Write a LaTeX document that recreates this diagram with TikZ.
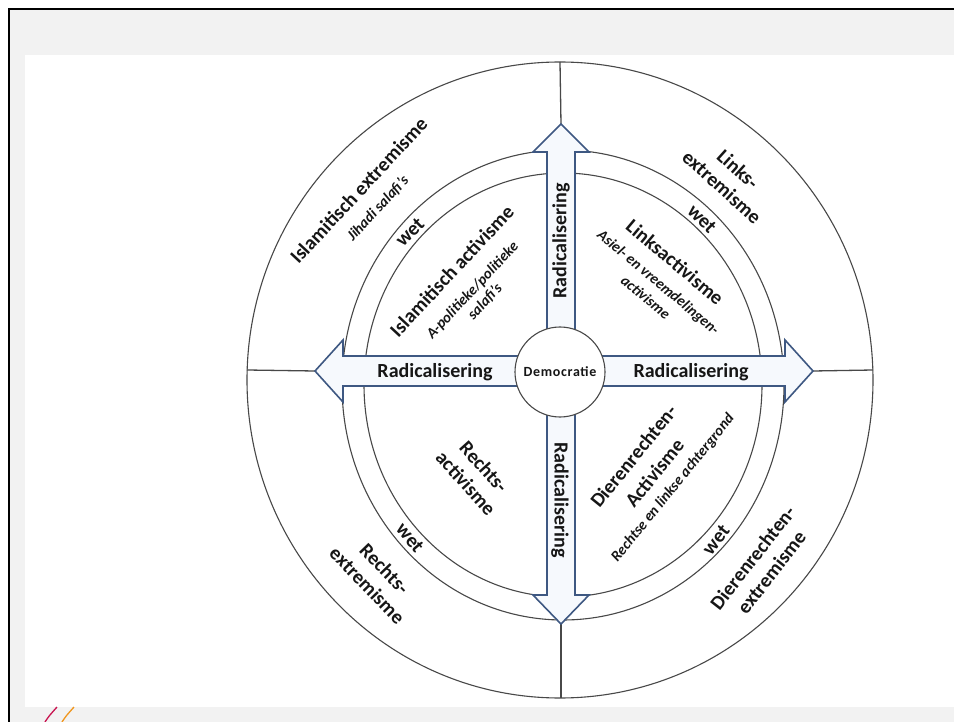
\documentclass[tikz,border=0pt]{standalone}
\usepackage{fontspec}
\setmainfont{Carlito}
\definecolor{ringgray}{RGB}{72,72,72}
\definecolor{arrowblue}{RGB}{62,88,130}
\definecolor{arrowfill}{RGB}{246,249,253}
\definecolor{bggray}{RGB}{242,242,242}
\definecolor{textblack}{RGB}{22,22,22}
\definecolor{markred}{RGB}{200,20,80}
\definecolor{markorange}{RGB}{240,150,30}
\newcommand{\subtxt}{\fontsize{15}{17}\selectfont\itshape}
\begin{document}
\begin{tikzpicture}[x=1pt,y=-1pt,
  ring/.style={draw=ringgray, line width=1.1pt},
  divider/.style={draw=ringgray, line width=1.3pt},
  arrowshape/.style={draw=arrowblue, fill=arrowfill, line width=1.6pt, line join=miter},
  lbl/.style={font=\fontsize{20}{24}\selectfont\bfseries, text=textblack, align=center, inner sep=0pt},
  radlbl/.style={font=\fontsize{20}{24}\selectfont\bfseries, text=textblack, inner sep=0pt},
  demolbl/.style={font=\fontsize{14}{16}\selectfont\bfseries\addfontfeature{LetterSpace=5}, text=textblack, inner sep=0pt}
]
\useasboundingbox (0,0) rectangle (954,722);
% slide background
\fill[white] (0,0) rectangle (954,722);
\fill[bggray] (9,9) rectangle (954,722);
\fill[white] (25,55) rectangle (954,707);
\draw[black, line width=2.2pt] (9,722) -- (9,9) -- (954,9);
% small marks bottom left
\draw[markred, line width=1.3pt] (45,722) .. controls (49,716) .. (57,707);
\draw[markorange, line width=1.3pt] (62,722) .. controls (66,716) .. (74,707);

% outer circle
\coordinate (C) at (560,380);
\draw[ring, fill=white] (C) ellipse [x radius=313pt, y radius=318pt];

% arrow tips and outer-circle points
\coordinate (oT) at (560,62);
\coordinate (oB) at (561,698);
\coordinate (oL) at (247,370);
\coordinate (oR) at (873,370);
\coordinate (tipT) at (561,124);
\coordinate (tipB) at (561,624);
\coordinate (tipL) at (315,371);
\coordinate (tipR) at (813,371);
\draw[divider] (oT) -- (tipT);
\draw[divider] (oB) -- (tipB);
\draw[divider] (oL) -- (tipL);
\draw[divider] (oR) -- (tipR);

% law rings
\coordinate (W) at (563,385);
\draw[ring] (W) ellipse [x radius=221pt, y radius=235pt];
\draw[ring] (W) ellipse [x radius=199pt, y radius=212pt];

% arrows
\draw[arrowshape] (547,331) -- (547,152) -- (533,152) -- (tipT) -- (589,152) -- (575,152) -- (575,331) -- cycle;
\draw[arrowshape] (547,413) -- (547,595) -- (533,595) -- (tipB) -- (589,595) -- (575,595) -- (575,413) -- cycle;
\draw[arrowshape] (518,356) -- (343,356) -- (343,340) -- (tipL) -- (343,402) -- (343,386) -- (518,386) -- cycle;
\draw[arrowshape] (602,356) -- (785,356) -- (785,340) -- (tipR) -- (785,402) -- (785,386) -- (602,386) -- cycle;

% centre
\node[circle, draw=ringgray, line width=1.1pt, fill=white, minimum size=90pt, inner sep=0pt] (demo) at (560,372) {};
\node[demolbl] (demotext) at (demo.center) {Democratie};

% radicalisering labels
\node[radlbl] (radL) at (435,372) {Radicalisering};
\node[radlbl] (radR) at (691,372) {Radicalisering};
\node[radlbl, rotate=90] (radT) at (561,241) {Radicalisering};
\node[radlbl, rotate=-90] (radB) at (560,500) {Radicalisering};

% upper left
\node[lbl, rotate=47] (islext) at (368,199) {Islamitisch extremisme\\{\subtxt Jihadi salafi's}};
\node[lbl, rotate=45] (wetUL) at (410,232) {wet};
\node[lbl, rotate=47] (islact) at (468,286) {Islamitisch activisme\\[2pt]{\subtxt A-politieke/politieke}\\[-7pt]{\subtxt salafi's}};

% upper right
\node[lbl, rotate=-42] (linksext) at (730,178) {Links-\\extremisme};
\node[lbl, rotate=-45] (wetUR) at (702,219) {wet};
\node[lbl, rotate=-40] (linksact) at (661,279) {Linksactivisme\\{\subtxt Asiel- en vreemdelingen-}\\[-4pt]{\subtxt activisme}};

% lower left
\node[lbl, rotate=-48] (rechtsact) at (475,475) {Rechts-\\activisme};
\node[lbl, rotate=-50] (wetLL) at (410,538) {wet};
\node[lbl, rotate=-46] (rechtsext) at (376,577) {Rechts-\\extremisme};

% lower right
\node[lbl, rotate=51] (dierenact) at (653,472) {Dierenrechten-\\[3pt]Activisme\\[-3pt]{\subtxt Rechtse en linkse achtergrond}};
\node[lbl, rotate=52] (wetLR) at (716,540) {wet};
\node[lbl, rotate=52] (dierenext) at (762,565) {Dierenrechten-\\extremisme};
\end{tikzpicture}
\end{document}
